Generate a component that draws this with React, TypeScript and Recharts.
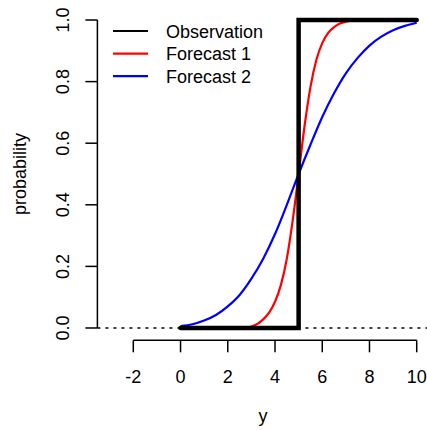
import React from "react";
import { LineChart, Line, XAxis, YAxis, ReferenceLine } from "recharts";

// ---- data ----
const xTicks = [-2, 0, 2, 4, 6, 8, 10];
const yTicks = [0, 0.2, 0.4, 0.6, 0.8, 1.0];
const xDomain: [number, number] = [-3.52, 10.52];
const yDomain: [number, number] = [-0.04, 1.04];

const obsX = [0, 5, 5, 10];
const obsP = [0, 0, 1, 1];

const f1X = [0, 2.5, 2.75, 3.0, 3.25, 3.5, 3.75, 4.0, 4.25, 4.5, 4.75, 5.0, 5.25, 5.5, 5.75, 6.0, 6.25, 6.5, 6.75, 7.0, 7.25, 7.5, 10];
const f1P = [0, 0, 0.002, 0.005, 0.013, 0.028, 0.05, 0.085, 0.14, 0.225, 0.35, 0.5, 0.655, 0.782, 0.87, 0.925, 0.958, 0.977, 0.989, 0.995, 0.998, 1, 1];

const f2X = [0, 0.5, 1, 1.5, 2, 2.5, 3, 3.5, 4, 4.5, 5, 5.5, 6, 6.5, 7, 7.5, 8, 8.5, 9, 9.5, 10];
const f2P = [0.006, 0.012, 0.024, 0.042, 0.07, 0.107, 0.16, 0.225, 0.305, 0.4, 0.5, 0.595, 0.685, 0.762, 0.827, 0.877, 0.917, 0.946, 0.967, 0.981, 0.991];

const seriesNames = ["Observation", "Forecast 1", "Forecast 2"];
const seriesColors = ["#000000", "#ff0000", "#0000ff"];

const toData = (xs: number[], ps: number[]) => xs.map((x, i) => ({ x, p: ps[i] }));
const obsData = toData(obsX, obsP);
const f1Data = toData(f1X, f1P);
const f2Data = toData(f2X, f2P);

const FONT = "'Liberation Sans', Arial, Helvetica, sans-serif";
const FS = 18;

const XTick = (props: any) => {
  const { x, y, payload } = props;
  return (
    <text x={x} y={y} dy={28.2} textAnchor="middle" fontFamily={FONT} fontSize={FS} fill="#000">
      {String(payload.value)}
    </text>
  );
};

const YTick = (props: any) => {
  const { x, y, payload } = props;
  const cx = x - 13.9;
  return (
    <text
      x={cx}
      y={y}
      textAnchor="middle"
      transform={`rotate(-90, ${cx}, ${y})`}
      fontFamily={FONT}
      fontSize={FS}
      fill="#000"
    >
      {Number(payload.value).toFixed(1)}
    </text>
  );
};

const Legend = () => (
  <svg
    width={427}
    height={100}
    style={{ position: "absolute", left: 0, top: 0, pointerEvents: "none" }}
  >
    {seriesNames.map((name, i) => {
      const cy = 31 + i * 22.6;
      return (
        <g key={name}>
          <line x1={113} x2={148} y1={cy} y2={cy} stroke={seriesColors[i]} strokeWidth={2.2} />
          <text x={166} y={cy + 6.5} fontFamily={FONT} fontSize={FS} fill="#000">
            {name}
          </text>
        </g>
      );
    })}
  </svg>
);

export default function App() {
  return (
    <div style={{ position: "absolute", left: 0, top: 0, width: 427, height: 430, overflow: "hidden", background: "#fff" }}>
      <LineChart width={429} height={430} margin={{ top: 7.7, right: 0, bottom: 0, left: 0 }}>
        <XAxis
          type="number"
          dataKey="x"
          domain={xDomain}
          ticks={xTicks}
          allowDataOverflow
          axisLine={false}
          tickSize={12}
          tickMargin={2}
          tickLine={{ stroke: "#000", strokeWidth: 1.5 }}
          tick={<XTick />}
          height={89.7}
          interval={0}
        />
        <YAxis
          type="number"
          dataKey="p"
          domain={yDomain}
          ticks={yTicks}
          allowDataOverflow
          axisLine={false}
          tickSize={12}
          tickMargin={2}
          tickLine={{ stroke: "#000", strokeWidth: 1.5 }}
          tick={<YTick />}
          width={97.4}
          interval={0}
        />
        <ReferenceLine
          segment={[
            { x: xTicks[0], y: yDomain[0] },
            { x: xTicks[xTicks.length - 1], y: yDomain[0] },
          ]}
          stroke="#000"
          strokeWidth={1.5}
          ifOverflow="visible"
        />
        <ReferenceLine
          segment={[
            { x: xDomain[0], y: yTicks[0] },
            { x: xDomain[0], y: yTicks[yTicks.length - 1] },
          ]}
          stroke="#000"
          strokeWidth={1.5}
          ifOverflow="visible"
        />
        <ReferenceLine y={0} stroke="#000" strokeWidth={1.5} strokeDasharray="3 5" />
        <Line data={f1Data} dataKey="p" type="monotone" stroke={seriesColors[1]} strokeWidth={2.2} dot={false} isAnimationActive={false} />
        <Line data={f2Data} dataKey="p" type="monotone" stroke={seriesColors[2]} strokeWidth={2.2} dot={false} isAnimationActive={false} />
        <Line
          data={obsData}
          dataKey="p"
          type="linear"
          stroke={seriesColors[0]}
          strokeWidth={4.5}
          strokeLinecap="round"
          strokeLinejoin="miter"
          dot={false}
          isAnimationActive={false}
        />
      </LineChart>
      <svg width={427} height={430} style={{ position: "absolute", left: 0, top: 0, pointerEvents: "none" }}>
        <text
          x={26}
          y={174}
          textAnchor="middle"
          transform="rotate(-90, 26, 174)"
          fontFamily={FONT}
          fontSize={FS}
          fill="#000"
        >
          probability
        </text>
        <text x={263} y={422} textAnchor="middle" fontFamily={FONT} fontSize={FS} fill="#000">
          y
        </text>
      </svg>
      <Legend />
    </div>
  );
}
